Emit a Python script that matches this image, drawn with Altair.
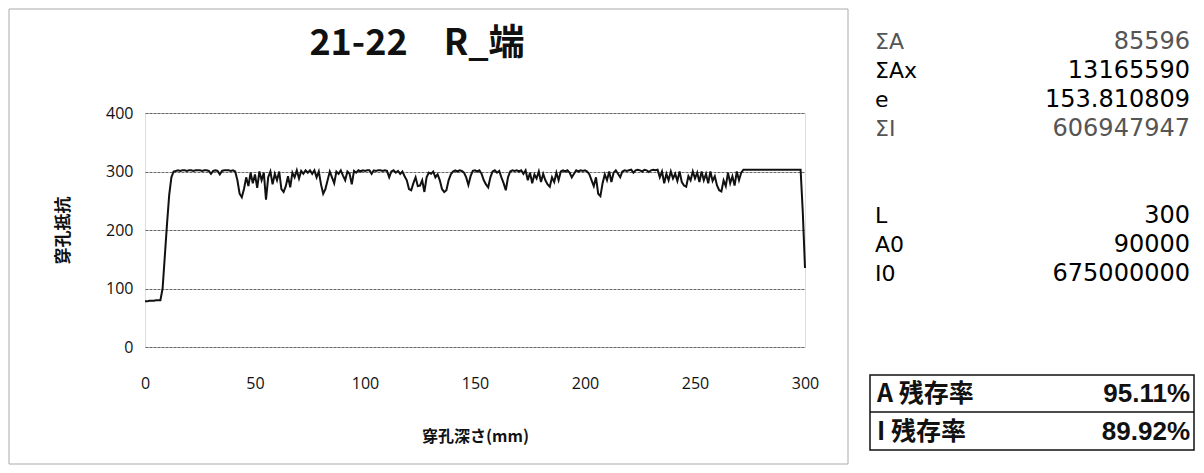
import altair as alt
import pandas as pd

# ---------------- data ----------------
depth = list(range(0, 301))
resistance = [
    # 0-9
    78, 78, 79, 79, 79, 80, 80, 80, 100, 155,
    # 10-19
    210, 260, 290, 300, 301, 302, 301, 302, 302, 301,
    # 20-29
    302, 302, 301, 302, 302, 302, 301, 302, 302, 301,
    # 30-39
    296, 301, 302, 301, 295, 301, 302, 302, 302, 301,
    # 40-49
    302, 300, 285, 262, 256, 270, 290, 275, 298, 280,
    # 50-59
    295, 272, 300, 285, 298, 252, 290, 300, 278, 296,
    # 60-69
    285, 300, 270, 265, 275, 292, 273, 298, 290, 302,
    # 70-79
    288, 301, 296, 302, 298, 302, 296, 302, 290, 300,
    # 80-89
    278, 262, 270, 285, 300, 290, 280, 300, 296, 302,
    # 90-99
    293, 285, 300, 296, 278, 301, 298, 302, 300, 302,
    # 100-109
    301, 302, 302, 296, 302, 301, 302, 302, 301, 302,
    # 110-119
    301, 290, 300, 302, 298, 301, 296, 300, 292, 285,
    # 120-129
    270, 268, 280, 290, 275, 276, 285, 265, 290, 298,
    # 130-139
    296, 300, 290, 295, 285, 270, 265, 268, 285, 295,
    # 140-149
    300, 302, 300, 302, 301, 298, 290, 277, 292, 301,
    # 150-159
    302, 300, 302, 296, 285, 278, 273, 290, 300, 302,
    # 160-169
    298, 301, 290, 280, 268, 290, 300, 302, 301, 302,
    # 170-179
    300, 302, 296, 302, 285, 298, 280, 295, 288, 300,
    # 180-189
    282, 296, 285, 278, 274, 290, 282, 298, 285, 300,
    # 190-199
    302, 300, 302, 298, 290, 296, 302, 300, 302, 301,
    # 200-209
    302, 300, 295, 285, 275, 290, 262, 258, 280, 295,
    # 210-219
    285, 300, 282, 298, 302, 296, 290, 300, 302, 301,
    # 220-229
    302, 303, 298, 302, 303, 302, 300, 303, 302, 299,
    # 230-239
    302, 303, 302, 303, 290, 300, 280, 296, 285, 300,
    # 240-249
    288, 296, 284, 300, 282, 276, 274, 292, 285, 300,
    # 250-259
    288, 298, 282, 300, 285, 296, 280, 300, 284, 292,
    # 260-269
    276, 268, 266, 285, 275, 298, 280, 292, 276, 300,
    # 270-279
    285, 298, 303, 303, 303, 303, 303, 303, 303, 303,
    # 280-289
    303, 303, 303, 303, 303, 303, 303, 303, 303, 303,
    # 290-300
    303, 303, 303, 303, 303, 303, 303, 303, 303, 230, 135,
]

title_text = "21-22　R_端"
x_title = "穿孔深さ(mm)"
y_title = "穿孔抵抗"
x_ticks = [0, 50, 100, 150, 200, 250, 300]
y_ticks = [0, 100, 200, 300, 400]

stat_labels = ["ΣA", "ΣAx", "e", "ΣI", "L", "A0", "I0"]
stat_values = ["85596", "13165590", "153.810809", "606947947", "300", "90000", "675000000"]
ratio_labels = ["A 残存率", "I 残存率"]
ratio_values = ["95.11%", "89.92%"]

# ---------------- layout (pixels relative to plot origin) ----------------
W, H = 660, 234
PAD = {"left": 137, "top": 105, "right": 391, "bottom": 118}
stat_slots = [0, 1, 2, 3, 6, 7, 8]
stat_colors = ["#555555", "#000000", "#000000", "#555555", "#000000", "#000000", "#000000"]
LABEL_X, VALUE_X = 730, 1045
ROW0, ROWSTEP = -71, 29

df = pd.DataFrame({"depth": depth, "resistance": resistance})

line = alt.Chart(df).mark_line(color="#111111", strokeWidth=2).encode(
    x=alt.X("depth:Q",
            scale=alt.Scale(domain=[0, 300], nice=False, zero=False),
            axis=alt.Axis(values=x_ticks, title=x_title, grid=False, ticks=False,
                          domain=False, labelPadding=28, titlePadding=37,
                          labelFlush=False,
                          labelFont="Open Sans", labelFontSize=16, labelColor="#111",
                          titleFont="Noto Sans CJK JP", titleFontSize=16,
                          titleFontWeight="bold", titleColor="#111")),
    y=alt.Y("resistance:Q",
            scale=alt.Scale(domain=[0, 400], nice=False),
            axis=alt.Axis(values=y_ticks, title=y_title, grid=True, gridColor="#666666",
                          gridWidth=1, gridDash=[3, 1], ticks=False, domain=False,
                          labelPadding=12, labelFlush=False, titlePadding=33,
                          labelFont="Open Sans", labelFontSize=16, labelColor="#111",
                          titleFont="Noto Sans CJK JP", titleFontSize=17,
                          titleFontWeight="bold", titleColor="#111")),
)

one = pd.DataFrame({"k": [0]})

frame = alt.Chart(one).mark_rect(fill=None, stroke="#aaaaaa", strokeWidth=1).encode(
    x=alt.value(-136), x2=alt.value(703), y=alt.value(-104), y2=alt.value(351)
)

title_df = pd.DataFrame({"t": [title_text]})
title = alt.Chart(title_df).mark_text(align="center", baseline="middle",
                                      font="Noto Sans CJK JP", fontSize=36,
                                      fontWeight="bold", color="#111").encode(
    x=alt.value(272), y=alt.value(-69), text="t:N")

layers = [frame, line, title]

for lab, val, slot, col in zip(stat_labels, stat_values, stat_slots, stat_colors):
    yy = ROW0 + ROWSTEP * slot
    d = pd.DataFrame({"lab": [lab], "val": [val]})
    layers.append(alt.Chart(d).mark_text(align="left", baseline="middle",
                                         font="DejaVu Sans", fontSize=22,
                                         color=col).encode(
        x=alt.value(LABEL_X), y=alt.value(yy), text="lab:N"))
    layers.append(alt.Chart(d).mark_text(align="right", baseline="middle",
                                         font="DejaVu Sans", fontSize=24,
                                         color=col).encode(
        x=alt.value(VALUE_X), y=alt.value(yy), text="val:N"))

# ratio table
TB_X0, TB_X1, TB_Y0, TB_Y1, TB_MID = 725, 1049, 262, 337, 299
layers.append(alt.Chart(one).mark_rect(fill=None, stroke="#111", strokeWidth=1.5).encode(
    x=alt.value(TB_X0), x2=alt.value(TB_X1), y=alt.value(TB_Y0), y2=alt.value(TB_Y1)))
layers.append(alt.Chart(one).mark_rule(color="#111", strokeWidth=1.5).encode(
    x=alt.value(TB_X0), x2=alt.value(TB_X1), y=alt.value(TB_MID)))
for i, (lab, val) in enumerate(zip(ratio_labels, ratio_values)):
    yy = (TB_Y0 + TB_MID) / 2 + i * (TB_Y1 - TB_MID)
    d = pd.DataFrame({"lab": [lab], "val": [val]})
    layers.append(alt.Chart(d).mark_text(align="left", baseline="middle",
                                         font="Noto Sans CJK JP", fontSize=25,
                                         fontWeight="bold", color="#111").encode(
        x=alt.value(TB_X0 + 7), y=alt.value(yy), text="lab:N"))
    layers.append(alt.Chart(d).mark_text(align="right", baseline="middle",
                                         font="Liberation Sans", fontSize=26,
                                         fontWeight="bold", color="#111").encode(
        x=alt.value(VALUE_X), y=alt.value(yy), text="val:N"))

chart = alt.layer(*layers).properties(
    width=W, height=H,
    autosize=alt.AutoSizeParams(type="none"),
    padding=PAD,
).configure_view(stroke="#444444", strokeWidth=1.2).configure(background="white")

chart.save("out.html", embed_options={"renderer": "svg", "actions": False})
